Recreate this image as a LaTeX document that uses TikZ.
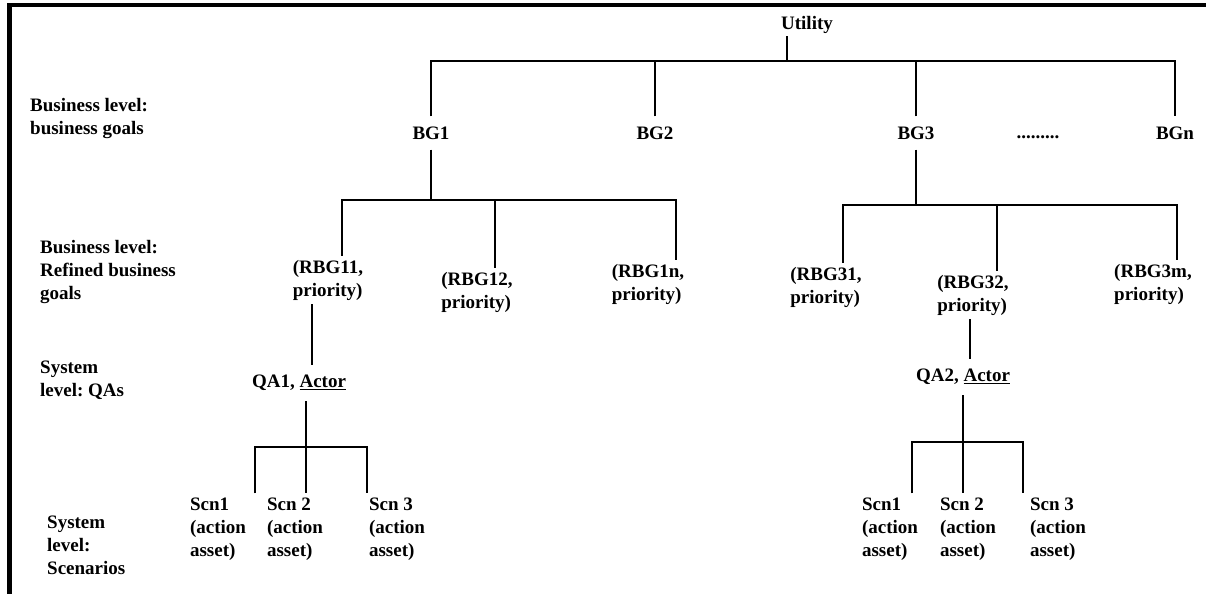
\documentclass[tikz,border=0pt]{standalone}
\usepackage{fontspec}
\setmainfont{Liberation Serif}
\frenchspacing
\begin{document}
\begin{tikzpicture}[x=1pt,y=-1pt,
  every node/.style={font=\fontsize{19}{23}\selectfont\bfseries,inner sep=2pt},
  tree/.style={line width=2.8pt},
  lbl/.style={align=left,anchor=west},
  goal/.style={inner ysep=10pt},
  pair/.style={align=left,inner ysep=4pt}]
\useasboundingbox (0,0) rectangle (1206,594);
\draw[line width=4pt] (7,5.5)--(1206,5.5);
\draw[line width=4.5pt] (9.3,3.5)--(9.3,594);

\node[lbl] (l1) at (28,119) {Business level:\\business goals};
\node[lbl] (l2) at (38,272) {Business level:\\Refined business\\goals};
\node[lbl] (l3) at (38,380) {System\\level: QAs};
\node[lbl] (l4) at (45,545) {System\\level:\\Scenarios};

\node (util) at (807,25) {Utility};
\node[goal] (bg1) at (431,133) {BG1};
\node[goal] (bg2) at (655,133) {BG2};
\node[goal] (bg3) at (916,133) {BG3};
\node (dots) at (1038,137) {.........};
\node[goal] (bgn) at (1175,133) {BGn};
\coordinate (hub) at (787,61);
\draw[tree] (hub) -- (hub |- util.south);
\draw[tree] (bg1.north) |- (hub) -| (bgn.north);
\foreach \g in {bg2,bg3} \draw[tree] (\g.north) -- (\g.north |- hub);

\node[pair] (r11) at (328,280) {(RBG11,\\priority)};
\node[pair] (r12) at (477,292) {(RBG12,\\priority)};
\node[pair] (r1n) at (648,284) {(RBG1n,\\priority)};
\node[pair] (r31) at (826,287) {(RBG31,\\priority)};
\node[pair] (r32) at (973,295) {(RBG32,\\priority)};
\node[pair] (r3m) at (1153,284) {(RBG3m,\\priority)};
\foreach \r/\dx in {r11/14,r12/18,r1n/28,r31/17,r32/24,r3m/24}
  \coordinate (t\r) at ([xshift=\dx pt]\r.north);
\coordinate (hubA) at (431,200);
\coordinate (hubB) at (916,205);
\draw[tree] (bg1.south) -- (hubA);
\draw[tree] (tr11) |- (hubA) -| (tr1n);
\draw[tree] (tr12) -- (tr12 |- hubA);
\draw[tree] (bg3.south) -- (hubB);
\draw[tree] (tr31) |- (hubB) -| (tr3m);
\draw[tree] (tr32) -- (tr32 |- hubB);

\node[goal] (qa1) at (299,383) {QA1, \underline{Actor}};
\node[goal] (qa2) at (963,377) {QA2, \underline{Actor}};
\coordinate (u1) at ([xshift=13pt]qa1.north);
\coordinate (u2) at ([xshift=7pt]qa2.north);
\draw[tree] (u1) -- (u1 |- r11.south);
\draw[tree] (u2) -- (u2 |- r32.south);

\node[pair] (s11) at (218,529) {Scn1\\(action\\asset)};
\node[pair] (s12) at (295,529) {Scn 2\\(action\\asset)};
\node[pair] (s13) at (397,529) {Scn 3\\(action\\asset)};
\node[pair] (s21) at (890,529) {Scn1\\(action\\asset)};
\node[pair] (s22) at (968,529) {Scn 2\\(action\\asset)};
\node[pair] (s23) at (1058,529) {Scn 3\\(action\\asset)};
\coordinate (d1) at ([xshift=7pt]qa1.south);
\coordinate (d2) at (qa2.south);
\coordinate (hubC) at (306,447);
\coordinate (hubD) at (963,442);
\coordinate (e11) at ([xshift=37pt]s11.north);
\coordinate (e13) at ([xshift=-30pt]s13.north);
\coordinate (e21) at ([xshift=22pt]s21.north);
\coordinate (e23) at ([xshift=-35pt]s23.north);
\draw[tree] (d1) -- (d1 |- s12.north);
\draw[tree] (e11) |- (hubC) -| (e13);
\draw[tree] (d2) -- (d2 |- s22.north);
\draw[tree] (e21) |- (hubD) -| (e23);
\end{tikzpicture}
\end{document}
